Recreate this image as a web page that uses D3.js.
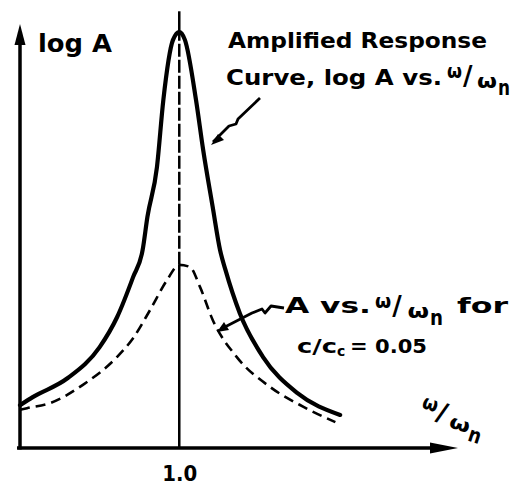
<!DOCTYPE html>
<html>
<head>
<meta charset="utf-8">
<script src="https://cdn.jsdelivr.net/npm/d3@7"></script>
<style>
body { margin: 0; background: #fff; }
text { font-family: "DejaVu Sans", sans-serif; font-weight: bold; fill: #000; }
</style>
</head>
<body>
<div id="canvas"></div>
<script>
// data (x = omega/omega_n, y = relative height)
const solidX = [0.0, 0.08, 0.30, 0.50, 0.61, 0.71, 0.77, 0.80, 0.86, 0.90, 0.96, 1.0, 1.036, 1.105, 1.15, 1.21, 1.256, 1.29, 1.38, 1.525, 1.74, 2.01];
const solidY = [10.1, 12.0, 16.5, 23.8, 30.9, 40.3, 46.7, 54.5, 66.3, 82.1, 96.2, 98.1, 96.2, 82.1, 70.3, 56.8, 46.7, 42.0, 31.8, 21.5, 13.0, 7.8];
const dashX = [0.0, 0.044, 0.19, 0.395, 0.61, 0.71, 0.816, 0.923, 1.0, 1.067, 1.13, 1.21, 1.36, 1.57, 1.78, 1.98];
const dashY = [9.0, 9.4, 10.6, 14.9, 21.5, 25.9, 32.5, 39.6, 43.2, 42.7, 38.0, 30.2, 21.5, 14.4, 9.7, 6.1];
const xTicks = [1];
const xTickLabels = ['1.0'];
const resonanceTop = 103;

const width = 523;
const height = 486;

const x = d3.scaleLinear().domain([0, 2.75]).range([20, 458]);
const y = d3.scaleLinear().domain([0, 100]).range([448, 24]);

const svg = d3.select('#canvas')
    .append('svg').attr('width', width).attr('height', height);

// axes
const xAxis = d3.axisBottom(x)
    .tickValues(xTicks)
    .tickFormat((d, i) => xTickLabels[i])
    .tickSize(0)
    .tickPadding(18);
const yAxis = d3.axisLeft(y).tickValues([]).tickSizeOuter(0);

const gx = svg.append('g')
    .attr('transform', `translate(0,${y(0)})`)
    .call(xAxis);
gx.select('.domain').attr('stroke-width', 3.5).attr('d', `M${x(0) - 3},0H${x(2.75) - 10}`);
gx.selectAll('.tick text')
    .attr('font-family', 'DejaVu Sans').attr('font-weight', 'bold')
    .attr('font-size', 21).attr('textLength', 35).attr('lengthAdjust', 'spacingAndGlyphs');

const gy = svg.append('g')
    .attr('transform', `translate(${x(0)},0)`)
    .call(yAxis);
gy.select('.domain').attr('stroke-width', 3.5).attr('d', `M0,${y(0) + 1.5}V${y(100) + 10}`);

// arrow heads
svg.append('path')
    .attr('d', `M${x(0)},${y(100)}L${x(0) - 5.5},${y(100) + 21}L${x(0) + 5.5},${y(100) + 21}Z`);
svg.append('path')
    .attr('d', `M${x(2.75)},${y(0)}L${x(2.75) - 28},${y(0) - 5.5}L${x(2.75) - 28},${y(0) + 5.5}Z`);

// resonance line at omega/omega_n = 1
const solidPeak = d3.max(solidY);
const dashPeak = dashY[dashX.indexOf(1.0)];
svg.append('line')
    .attr('x1', x(1)).attr('x2', x(1))
    .attr('y1', y(0)).attr('y2', y(dashPeak))
    .attr('stroke', '#000').attr('stroke-width', 2.5);
svg.append('line')
    .attr('x1', x(1)).attr('x2', x(1))
    .attr('y1', y(dashPeak)).attr('y2', y(solidPeak))
    .attr('stroke', '#000').attr('stroke-width', 2.5)
    .attr('stroke-dasharray', '13,3');
svg.append('line')
    .attr('x1', x(1)).attr('x2', x(1))
    .attr('y1', y(solidPeak)).attr('y2', y(resonanceTop))
    .attr('stroke', '#000').attr('stroke-width', 2.5);

// curves
const line = d3.line()
    .x(d => x(d[0]))
    .y(d => y(d[1]))
    .curve(d3.curveMonotoneX);

svg.append('path')
    .datum(d3.zip(solidX, solidY))
    .attr('d', line)
    .attr('fill', 'none')
    .attr('stroke', '#000')
    .attr('stroke-width', 4.2)
    .attr('stroke-linecap', 'round');

svg.append('path')
    .datum(d3.zip(dashX, dashY))
    .attr('d', line)
    .attr('fill', 'none')
    .attr('stroke', '#000')
    .attr('stroke-width', 2.6)
    .attr('stroke-dasharray', '10,6');

// pointer squiggles
svg.append('path')
    .attr('d', 'M260,98L238,119L236,124L229,126L213,142')
    .attr('fill', 'none').attr('stroke', '#000').attr('stroke-width', 2.8)
    .attr('stroke-linejoin', 'round');
svg.append('path')
    .attr('d', 'M211,145L218,134L224,140Z');

svg.append('path')
    .attr('d', 'M284,308L271,306L265,313L262,309L252,313L221,329')
    .attr('fill', 'none').attr('stroke', '#000').attr('stroke-width', 2.8)
    .attr('stroke-linejoin', 'round');
svg.append('path')
    .attr('d', 'M217,332L224,322L229,330Z');

// text
function label(txt, tx, ty, size, len) {
    const t = svg.append('text')
        .attr('x', tx).attr('y', ty)
        .attr('font-size', size)
        .text(txt);
    if (len) t.attr('textLength', len).attr('lengthAdjust', 'spacingAndGlyphs');
    return t;
}

// omega / omega_n drawn piece by piece, k stretches it sideways
function omegaRatio(ox, oy, k, angle) {
    const g = svg.append('g')
        .attr('transform', `translate(${ox},${oy}) rotate(${angle})`);
    const parts = [
        ['\u03c9', 0, -10, 20, 15],
        ['/', 16, -3, 26, 0],
        ['\u03c9', 30, 0, 19, 20],
        ['n', 51, 7, 21, 12]
    ];
    parts.forEach(p => {
        const t = g.append('text')
            .attr('x', p[1] * k).attr('y', p[2])
            .attr('font-size', p[3])
            .text(p[0]);
        if (p[4]) t.attr('textLength', p[4] * k).attr('lengthAdjust', 'spacingAndGlyphs');
    });
}

label('log A', 38, 52, 25, 74);
label('Amplified  Response', 228, 48, 22, 259);
label('Curve, log A  vs.', 226, 85, 22, 216);
omegaRatio(447, 88, 1.0, 0);

label('A  vs.', 285, 313, 22, 86);
omegaRatio(375, 318, 1.08, 0);
label('for', 457, 313, 22, 51);
label('c/c', 297, 353, 20, 40);
label('c', 337, 356, 14);
label('= 0.05', 350, 353, 20, 77);

omegaRatio(418, 417, 1.05, 18);
</script>
</body>
</html>
